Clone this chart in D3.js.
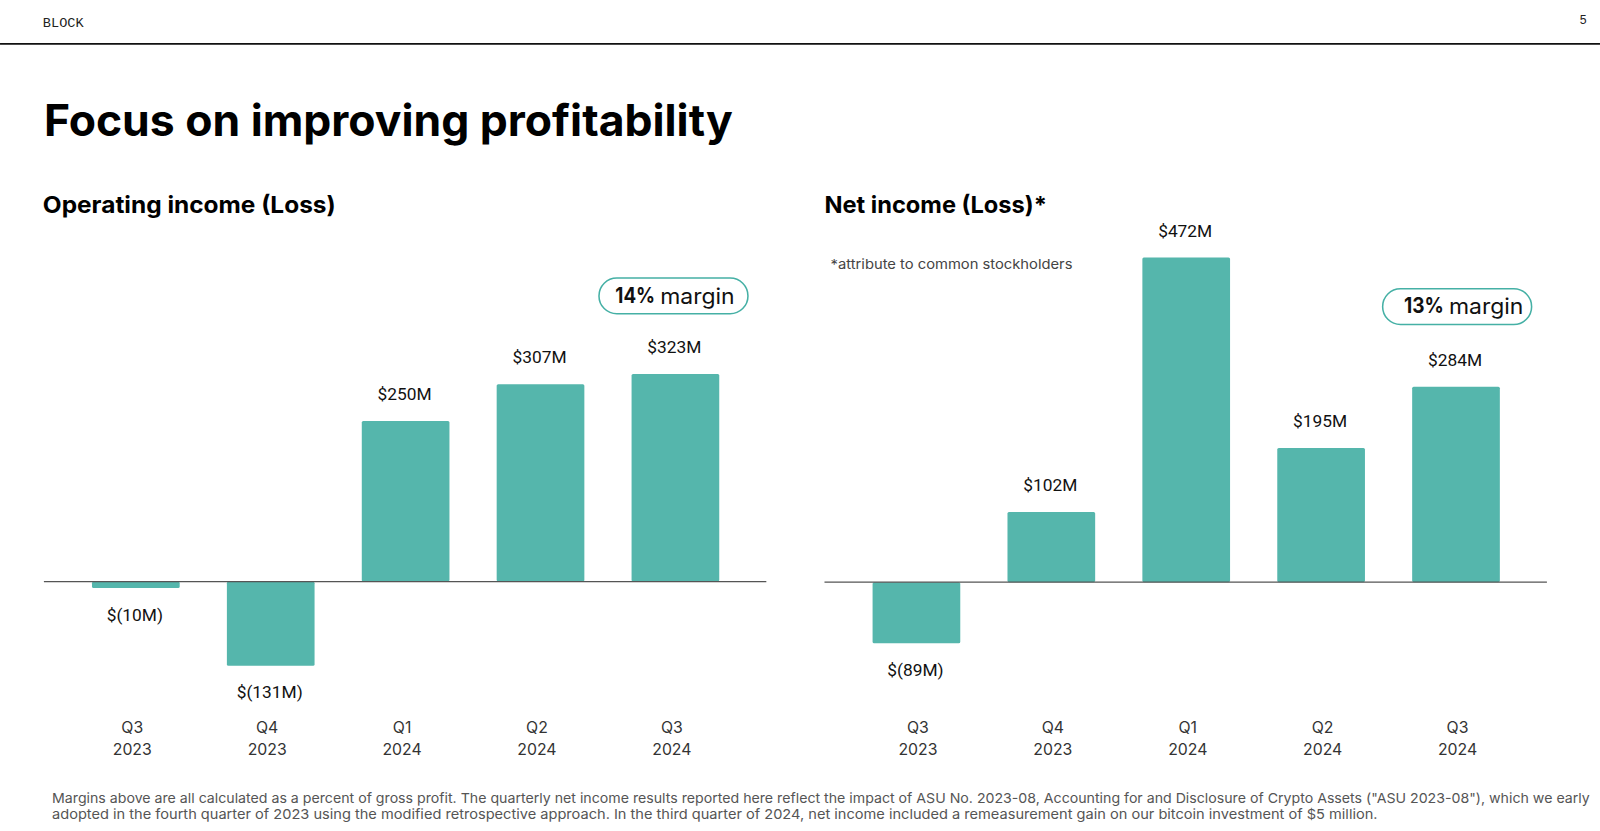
<!DOCTYPE html>
<html>
<head>
<meta charset="utf-8">
<script src="https://cdnjs.cloudflare.com/ajax/libs/d3/7.8.5/d3.min.js"></script>
<style>
html, body { margin: 0; padding: 0; background: #fff; overflow: hidden; }
svg { display: block; }
text { font-family: Inter, sans-serif; }
.value { font-family: Roboto, sans-serif; font-size: 17px; fill: #111; }
.axis text { font-size: 15.5px; fill: #333; font-family: Inter, sans-serif; }
.axis path, .axis line { display: none; }
</style>
</head>
<body>
<div id="chart"></div>
<script>
// slide is laid out on a 1568 wide grid and scaled up to the window
let w = 1568;
let h = 814.4;

let quarters = ["Q3", "Q4", "Q1", "Q2", "Q3"];
let years = ["2023", "2023", "2024", "2024", "2024"];

let opValues = [-10, -131, 250, 307, 323];
let opLabels = ["$(10M)", "$(131M)", "$250M", "$307M", "$323M"];

let netValues = [-89, 102, 472, 195, 284];
let netLabels = ["$(89M)", "$102M", "$472M", "$195M", "$284M"];

let footnote = [
    "Margins above are all calculated as a percent of gross profit. The quarterly net income results reported here reflect the impact of ASU No. 2023-08, Accounting for and Disclosure of Crypto Assets (\"ASU 2023-08\"), which we early",
    "adopted in the fourth quarter of 2023 using the modified retrospective approach. In the third quarter of 2024, net income included a remeasurement gain on our bitcoin investment of $5 million."
];

let teal = "#55b6ac";

let svg = d3.select("#chart")
    .append("svg")
    .attr("width", 1600)
    .attr("height", 831)
    .attr("viewBox", "0 0 " + w + " " + h);

// header
svg.append("text")
    .attr("x", 42).attr("y", 26.5)
    .attr("textLength", 40).attr("lengthAdjust", "spacingAndGlyphs")
    .style("font-family", "'Liberation Mono', monospace")
    .style("font-size", "13px")
    .attr("fill", "#222")
    .text("BLOCK");

svg.append("text")
    .attr("x", 1548).attr("y", 24)
    .style("font-family", "'Liberation Mono', monospace")
    .style("font-size", "12px")
    .attr("fill", "#222")
    .text("5");

svg.append("line")
    .attr("x1", 0).attr("x2", w)
    .attr("y1", 43).attr("y2", 43)
    .attr("stroke", "#111")
    .attr("stroke-width", 1.5);

svg.append("text")
    .attr("x", 43).attr("y", 133)
    .attr("textLength", 675).attr("lengthAdjust", "spacingAndGlyphs")
    .style("font-size", "43px")
    .style("font-weight", 700)
    .attr("fill", "#000")
    .text("Focus on improving profitability");

let drawPanel = function (opt) {
    let x = d3.scaleBand()
        .domain(d3.range(opt.values.length))
        .range(opt.range)
        .paddingInner(0.35)
        .paddingOuter(0.175);

    let y = d3.scaleLinear()
        .domain([0, 100])
        .range([opt.base, opt.base - opt.per100]);

    svg.append("text")
        .attr("x", opt.titleX).attr("y", 209)
        .attr("textLength", opt.titleLen).attr("lengthAdjust", "spacingAndGlyphs")
        .style("font-size", "23px")
        .style("font-weight", 700)
        .attr("fill", "#000")
        .text(opt.title);

    svg.selectAll(null)
        .data(opt.values)
        .enter()
        .append("rect")
        .attr("x", (d, i) => x(i))
        .attr("y", (d) => Math.min(y(d), y(0)))
        .attr("width", x.bandwidth())
        .attr("height", (d) => Math.abs(y(d) - y(0)))
        .attr("rx", 1.5)
        .attr("fill", teal);

    svg.append("line")
        .attr("x1", opt.axis[0]).attr("x2", opt.axis[1])
        .attr("y1", y(0)).attr("y2", y(0))
        .attr("stroke", "#555")
        .attr("stroke-width", 1);

    svg.selectAll(null)
        .data(opt.values)
        .enter()
        .append("text")
        .attr("class", "value")
        .attr("x", (d, i) => x(i) + x.bandwidth() / 2 + opt.labelShift)
        .attr("y", (d) => d >= 0 ? y(d) - 20.5 : y(d) + 32)
        .attr("text-anchor", "middle")
        .text((d, i) => opt.labels[i]);

    // category axis, two rows per tick
    let axis = d3.axisBottom(x)
        .tickSize(0)
        .tickPadding(0)
        .tickFormat((i) => quarters[i]);

    let g = svg.append("g")
        .attr("class", "axis")
        .attr("transform", "translate(" + opt.tickShift + ", 702)")
        .call(axis);

    g.selectAll(".tick text").each(function (i) {
        let t = d3.select(this);
        t.text(null).attr("y", 0).attr("dy", null);
        t.append("tspan").attr("x", 0).attr("y", 16).text(quarters[i]);
        t.append("tspan").attr("x", 0).attr("y", 38).text(years[i]);
    });

    // margin pill
    let pill = svg.append("g")
        .attr("transform", "translate(" + opt.pill[0] + "," + opt.pill[1] + ")");
    pill.append("rect")
        .attr("width", 146).attr("height", 35)
        .attr("rx", 17.5)
        .attr("fill", "#fff")
        .attr("stroke", "#45b0a5")
        .attr("stroke-width", 1.5);
    pill.append("text")
        .attr("x", opt.pillText).attr("y", 24)
        .attr("textLength", 39).attr("lengthAdjust", "spacingAndGlyphs")
        .style("font-size", "21px")
        .style("font-weight", 700)
        .attr("fill", "#111")
        .text(opt.margin);
    pill.append("text")
        .attr("x", opt.pillText + 44).attr("y", 25)
        .attr("textLength", 73).attr("lengthAdjust", "spacingAndGlyphs")
        .style("font-size", "21px")
        .attr("fill", "#111")
        .text("margin");
};

drawPanel({
    title: "Operating income (Loss)",
    titleX: 42, titleLen: 287,
    values: opValues, labels: opLabels,
    range: [67, 728], base: 570, per100: 63,
    axis: [43, 751], labelShift: -1, tickShift: -3.5,
    pill: [587, 272.5], pillText: 16, margin: "14%"
});

drawPanel({
    title: "Net income (Loss)*",
    titleX: 808, titleLen: 218,
    values: netValues, labels: netLabels,
    range: [832, 1493], base: 570.5, per100: 67.4,
    axis: [808, 1516], labelShift: -1, tickShift: 1.5,
    pill: [1355, 283], pillText: 21, margin: "13%"
});

svg.append("text")
    .attr("x", 814).attr("y", 264)
    .attr("textLength", 237).attr("lengthAdjust", "spacingAndGlyphs")
    .style("font-size", "13.5px")
    .attr("fill", "#444")
    .text("*attribute to common stockholders");

svg.selectAll(".foot")
    .data(footnote)
    .enter()
    .append("text")
    .attr("class", "foot")
    .attr("x", 51)
    .attr("y", (d, i) => 787 + i * 16)
    .attr("textLength", (d, i) => i == 0 ? 1507 : 1299)
    .attr("lengthAdjust", "spacingAndGlyphs")
    .style("font-size", "13.5px")
    .attr("fill", "#555")
    .text((d) => d);
</script>
</body>
</html>
